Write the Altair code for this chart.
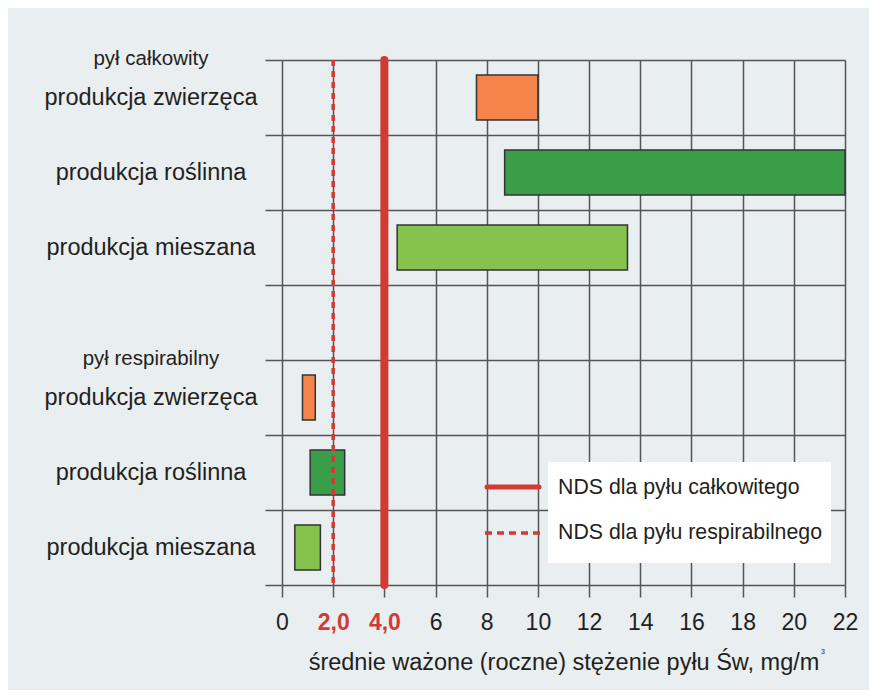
import altair as alt
import pandas as pd

# ---- data ----
groups = ["pył całkowity", "pył respirabilny"]
categories = ["produkcja zwierzęca", "produkcja roślinna", "produkcja mieszana"]
total_start = [7.6, 8.7, 4.5]
total_end = [10.0, 22.0, 13.5]
resp_start = [0.8, 1.1, 0.5]
resp_end = [1.3, 2.45, 1.5]
colors = ["#f5844a", "#3a9e48", "#86c34e"]
nds_total = 4.0
nds_resp = 2.0
x_ticks = [0, 2, 4, 6, 8, 10, 12, 14, 16, 18, 20, 22]
legend_labels = ["NDS dla pyłu całkowitego", "NDS dla pyłu respirabilnego"]
x_title = "średnie ważone (roczne) stężenie pyłu Św, mg/m"

FONT = "Liberation Sans"
TXT = "#231f20"
RED = "#d43a34"
BG = "#e9eef1"
GRID = "#555555"

# rows: 0..2 total, 4..6 respirable (row 3 empty)
rows = []
for i, c in enumerate(categories):
    rows.append({"cat": c, "row": i, "start": total_start[i], "end": total_end[i], "color": colors[i]})
for i, c in enumerate(categories):
    rows.append({"cat": c, "row": i + 4, "start": resp_start[i], "end": resp_end[i], "color": colors[i]})
bars_df = pd.DataFrame(rows)
bars_df["y0"] = bars_df["row"] + 0.2
bars_df["y1"] = bars_df["row"] + 0.8
bars_df["yc"] = bars_df["row"] + 0.5

head_df = pd.DataFrame({"label": groups, "y": [0, 4]})

xscale = alt.Scale(domain=[0, 22], nice=False)
yscale = alt.Scale(domain=[0, 7], reverse=True, nice=False)

xaxis = alt.Axis(
    values=x_ticks, grid=True, gridColor=GRID, gridWidth=1.5, gridOpacity=1,
    domain=False, ticks=True, tickSize=12, tickColor=GRID, tickWidth=1.5,
    labelFont=FONT, labelFontSize=23, labelPadding=14, labelFlush=False,
    labelOverlap=False,
    labelColor={"condition": {"test": "datum.value == 2 || datum.value == 4", "value": RED}, "value": TXT},
    labelFontWeight={"condition": {"test": "datum.value == 2 || datum.value == 4", "value": "bold"}, "value": "normal"},
    labelExpr="datum.value == 2 ? '2,0' : datum.value == 4 ? '4,0' : datum.label",
    title=x_title, titleFont=FONT, titleFontSize=23.5, titleFontWeight="normal",
    titleColor=TXT, titlePadding=16,
)
yaxis = alt.Axis(
    values=list(range(8)), grid=True, gridColor=GRID, gridWidth=1.5, gridOpacity=1,
    domain=False, ticks=True, tickSize=17, tickColor=GRID, tickWidth=1.5,
    labels=False, title=None,
)

base_axes = alt.Chart(pd.DataFrame({"x": [0], "y": [0]})).mark_point(opacity=0).encode(
    x=alt.X("x:Q", scale=xscale, axis=xaxis),
    y=alt.Y("y:Q", scale=yscale, axis=yaxis),
)

bars = alt.Chart(bars_df).mark_rect(stroke="#333333", strokeWidth=1.5).encode(
    x=alt.X("start:Q", scale=xscale),
    x2="end:Q",
    y=alt.Y("y0:Q", scale=yscale),
    y2="y1:Q",
    fill=alt.Fill("color:N", scale=None),
)

ylabels = alt.Chart(bars_df).mark_text(
    font=FONT, fontSize=23.5, color=TXT, align="center", baseline="middle"
).encode(
    x=alt.value(-131),
    y=alt.Y("yc:Q", scale=yscale),
    text="cat:N",
)

heads = alt.Chart(head_df).mark_text(
    font=FONT, fontSize=20.5, color=TXT, align="center", baseline="middle", dy=-1
).encode(
    x=alt.value(-131),
    y=alt.Y("y:Q", scale=yscale),
    text="label:N",
)

nds_df = pd.DataFrame({"x": [nds_total], "y0": [0], "y1": [7]})
nds_r_df = pd.DataFrame({"x": [nds_resp], "y0": [0], "y1": [7]})

nds_line = alt.Chart(nds_df).mark_rule(color=RED, strokeWidth=8, strokeCap="round").encode(
    x=alt.X("x:Q", scale=xscale), y=alt.Y("y0:Q", scale=yscale), y2="y1:Q"
)
nds_r_line = alt.Chart(nds_r_df).mark_rule(color=RED, strokeWidth=3.5, strokeDash=[6, 5]).encode(
    x=alt.X("x:Q", scale=xscale), y=alt.Y("y0:Q", scale=yscale), y2="y1:Q"
)

# legend
leg_box = alt.Chart(pd.DataFrame({"a": [0]})).mark_rect(fill="white").encode(
    x=alt.value(266), x2=alt.value(549), y=alt.value(402), y2=alt.value(503)
)
leg_solid = alt.Chart(pd.DataFrame({"a": [0]})).mark_rule(color=RED, strokeWidth=5, strokeCap="round").encode(
    x=alt.value(205), x2=alt.value(257), y=alt.value(427)
)
leg_dash = alt.Chart(pd.DataFrame({"a": [0]})).mark_rule(color=RED, strokeWidth=3.5, strokeDash=[7, 5]).encode(
    x=alt.value(203), x2=alt.value(258), y=alt.value(473)
)
leg_text1 = alt.Chart(pd.DataFrame({"t": [legend_labels[0]]})).mark_text(
    font=FONT, fontSize=21.3, color=TXT, align="left", baseline="middle"
).encode(x=alt.value(276), y=alt.value(428), text="t:N")
leg_text2 = alt.Chart(pd.DataFrame({"t": [legend_labels[1]]})).mark_text(
    font=FONT, fontSize=21.3, color=TXT, align="left", baseline="middle"
).encode(x=alt.value(276), y=alt.value(473), text="t:N")

sup = alt.Chart(pd.DataFrame({"t": ["3"]})).mark_text(
    font=FONT, fontSize=7, color=TXT, align="center", baseline="middle"
).encode(x=alt.value(541), y=alt.value(592), text="t:N")

chart = alt.layer(
    base_axes, bars, nds_r_line, nds_line, leg_box, leg_solid, leg_dash,
    leg_text1, leg_text2, ylabels, heads, sup
).properties(
    width=563, height=525,
    autosize=alt.AutoSizeParams(type="none"),
    padding={"left": 274, "top": 52, "right": 24, "bottom": 105},
    background=BG,
).configure_view(stroke=None)

chart.save("out.html", embed_options={"renderer": "svg", "actions": False})
